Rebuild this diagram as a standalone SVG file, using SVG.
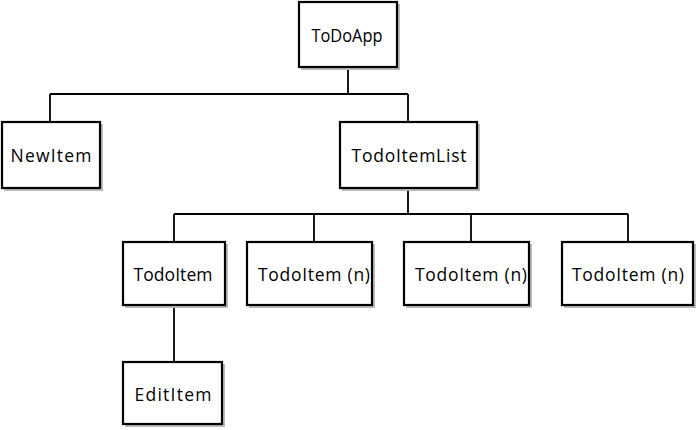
<svg xmlns="http://www.w3.org/2000/svg" width="697" height="430" viewBox="0 0 697 430">
<style>
.box{fill:#fff;stroke:#000;stroke-width:2.2}
.sh{fill:none;stroke:#bbb;stroke-width:2}
.lbl{font-family:"Open Sans","Liberation Sans",sans-serif;font-size:17.5px;fill:#000;text-anchor:middle;dominant-baseline:central}
.con{fill:none;stroke:#000;stroke-width:1.8}
</style>
<rect width="697" height="430" fill="#fff"/>
<g id="connectors">
<path class="con" d="M348,67 V94 M50,94 H408 M50,94 V122 M408,94 V122"/>
<path class="con" d="M408,188 V214 M174,214 H628 M174,214 V242 M314,214 V242 M471,214 V242 M628,214 V242"/>
<path class="con" d="M174,305 V362"/>
</g>
<g id="todoapp">
<path class="sh" d="M301,69 H399 V4"/>
<rect class="box" x="299" y="2" width="98" height="65"/>
<text class="lbl" x="347" y="35" textLength="71" lengthAdjust="spacingAndGlyphs">ToDoApp</text>
</g>
<g id="newitem">
<path class="sh" d="M4,190 H102 V124"/>
<rect class="box" x="2" y="122" width="98" height="66"/>
<text class="lbl" x="51" y="155" textLength="81" lengthAdjust="spacing">NewItem</text>
</g>
<g id="todoitemlist">
<path class="sh" d="M342,190 H479 V124"/>
<rect class="box" x="340" y="122" width="137" height="66"/>
<text class="lbl" x="409" y="155" textLength="115" lengthAdjust="spacing">TodoItemList</text>
</g>
<g id="todoitem">
<path class="sh" d="M125,307 H227 V244"/>
<rect class="box" x="123" y="242" width="102" height="63"/>
<text class="lbl" x="173" y="274" textLength="79" lengthAdjust="spacing">TodoItem</text>
</g>
<g id="todoitem-n1">
<path class="sh" d="M249,307 H374 V244"/>
<rect class="box" x="247" y="242" width="125" height="63"/>
<text class="lbl" x="314" y="274" textLength="112" lengthAdjust="spacing">TodoItem (n)</text>
</g>
<g id="todoitem-n2">
<path class="sh" d="M406,307 H531 V244"/>
<rect class="box" x="404" y="242" width="125" height="63"/>
<text class="lbl" x="471" y="274" textLength="112" lengthAdjust="spacing">TodoItem (n)</text>
</g>
<g id="todoitem-n3">
<path class="sh" d="M564,307 H695 V244"/>
<rect class="box" x="562" y="242" width="131" height="63"/>
<text class="lbl" x="628" y="274" textLength="112" lengthAdjust="spacing">TodoItem (n)</text>
</g>
<g id="edititem">
<path class="sh" d="M125,426 H224 V364"/>
<rect class="box" x="123" y="362" width="99" height="62"/>
<text class="lbl" x="173" y="394" textLength="77" lengthAdjust="spacing">EditItem</text>
</g>
</svg>
